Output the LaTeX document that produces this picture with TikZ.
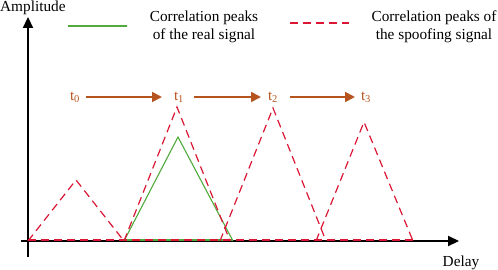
\documentclass[tikz,border=0pt]{standalone}
\usepackage{fontspec}
\setmainfont{Liberation Serif}
\usetikzlibrary{arrows.meta}
\definecolor{peakred}{RGB}{218,22,52}
\definecolor{realgreen}{RGB}{80,170,60}
\definecolor{timebrown}{RGB}{181,84,30}
\tikzset{
  spoof/.style={peakred, line width=1.2pt, dash pattern=on 8pt off 5pt},
  real/.style={realgreen, line width=1.1pt},
  axisline/.style={black, line width=2.2pt, -{Triangle[length=11pt,width=10pt]}},
  timearrow/.style={timebrown, line width=1.8pt, -{Triangle[length=10pt,width=10pt]}},
  tlabel/.style={text=timebrown, font=\fontsize{15}{17}\selectfont, inner sep=1pt},
  legendtext/.style={font=\fontsize{15.3}{18}\selectfont, align=center, inner sep=0pt},
  axistext/.style={font=\fontsize{15.3}{17}\selectfont, inner sep=0pt}
}
\begin{document}
\begin{tikzpicture}[x=1pt,y=-1pt]
\useasboundingbox (0,0) rectangle (498,270);
% axes
\coordinate (ybot) at (28,257);
\coordinate (ytop) at (28,17);
\coordinate (xleft) at (21,241);
\coordinate (xright) at (459,241);
\draw[axisline] (ybot) -- (ytop);
\draw[axisline] (xleft) -- (xright);
\node[axistext, anchor=west] (amp) at (0,8) {Amplitude};
\node[axistext] (delay) at (461,263) {Delay};
% legend
\coordinate (lg1) at (68,26);
\coordinate (lg2) at (127,26);
\draw[real] (lg1) -- (lg2);
\node[legendtext] (lreal) at (204,27) {Correlation peaks\\of the real signal};
\coordinate (lr1) at (290,23);
\coordinate (lr2) at (349,23);
\draw[spoof] (lr1) -- (lr2);
\node[legendtext] (lspoof) at (434,27) {Correlation peaks of\\the spoofing signal};
% time labels and arrows
\node[tlabel] (t0) at (75,97) {t\textsubscript{0}};
\node[tlabel] (t1) at (179,97) {t\textsubscript{1}};
\node[tlabel] (t2) at (273,97) {t\textsubscript{2}};
\node[tlabel] (t3) at (366,97) {t\textsubscript{3}};
\draw[timearrow] ([xshift=11pt]t0.center) -- ([xshift=-17pt]t1.center);
\draw[timearrow] ([xshift=15pt]t1.center) -- ([xshift=-12pt]t2.center);
\draw[timearrow] ([xshift=17pt]t2.center) -- ([xshift=-11pt]t3.center);
% baselines
\coordinate (b0) at (28,240);
\coordinate (b1) at (124,240);
\coordinate (b2) at (233,240);
\coordinate (bend) at (413,240);
\draw[real] (b1) -- (b2);
\draw[spoof] (b0) -- (bend);
% real peak
\draw[real] (124,241) -- (178,137) -- (233,241);
% spoofing peaks
\draw[spoof] (28,241) -- (76,180) -- (124,241);
\draw[spoof] (124,241) -- (177,107) -- (230,241);
\draw[spoof] (220,241) -- (273,108) -- (326,241);
\draw[spoof] (316,241) -- (364,122) -- (413,241);
\end{tikzpicture}
\end{document}
